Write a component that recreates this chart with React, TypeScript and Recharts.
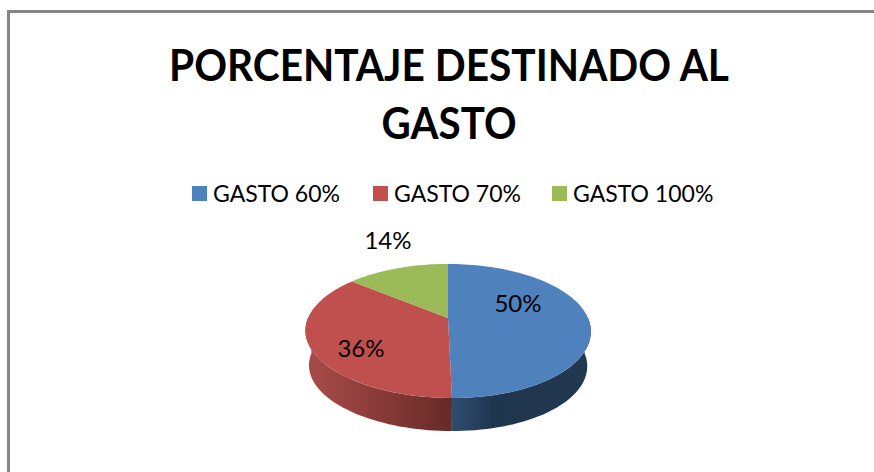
import React from "react";
import { PieChart, Pie, Legend } from "recharts";

const categories = ["GASTO 60%", "GASTO 70%", "GASTO 100%"];
const shares = [50, 36, 14];
const colors = ["#4f81bd", "#c0504d", "#9bbb59"];
const wallShades = [
  ["#2f4d70", "#20364f", "#22384f"],
  ["#a94c49", "#96423f", "#672a27"],
  ["#7a9446", "#7a9446", "#7a9446"],
];
const titleLines = ["PORCENTAJE DESTINADO AL", "GASTO"];

const rows = categories.map((name, i) => ({ name, value: shares[i], fill: colors[i] }));

// label spots relative to the pie apex, the way Excel left them
const LABEL_OFFSETS = [
  [70, -16],
  [-87, 29],
  [-60, -79],
];
const LEGEND_WIDTHS = [181, 179, 170];
// Lato runs wider than the original Calibri, so squeeze the title to its width
const TITLE_WIDTHS = [560, 135];

const FONT = "Lato, 'Open Sans', sans-serif";
const LEGEND_HEIGHT = 28;

// the old 3D pie: a circle seen in perspective, so the apex sits above the ellipse centre
const TILT = 0.194;
const SQUASH = 0.461;
const DEPTH = 35;
const BOTTOM_SCALE = 0.975;

function rimPoint(cx: number, cy: number, r: number, deg: number, lower = false) {
  const rad = (deg * Math.PI) / 180;
  const u = Math.cos(rad);
  const v = -Math.sin(rad);
  const w = 1 - TILT * v;
  const scale = lower ? BOTTOM_SCALE : 1;
  const y = ((r * SQUASH * v) / w) * scale;
  const lean = y > 0 ? 4 * (y / 80) * (y / 80) : 0;
  return [cx + ((r * u) / w) * scale + lean, cy + y + (lower ? DEPTH : 0)];
}

function sweep(from: number, to: number) {
  const steps = Math.max(2, Math.ceil(Math.abs(to - from) / 2));
  return Array.from({ length: steps + 1 }, (_, i) => from + ((to - from) * i) / steps);
}

function PieSlice(props: any) {
  const { cx, cy, outerRadius, startAngle, endAngle, fill, index } = props;
  const top = sweep(startAngle, endAngle).map((a) => rimPoint(cx, cy, outerRadius, a));
  const face = `M${cx},${cy} ` + top.map((p) => `L${p[0]},${p[1]}`).join(" ") + " Z";

  // only the part of the rim facing us gets a wall (angles run 0 to -180 along the front)
  const wallFrom = Math.min(startAngle, 0);
  const wallTo = Math.max(endAngle, -180);
  let wall = null;
  if (wallFrom > wallTo) {
    const angles = sweep(wallFrom, wallTo);
    const upper = angles.map((a) => rimPoint(cx, cy, outerRadius, a));
    const lower = angles.map((a) => rimPoint(cx, cy, outerRadius, a, true)).reverse();
    const pts = [...upper, ...lower];
    const xs = pts.map((p) => p[0]);
    const id = `wall-${index}`;
    const shade = wallShades[index];
    wall = (
      <>
        <defs>
          <linearGradient id={id} gradientUnits="userSpaceOnUse" x1={Math.min(...xs)} x2={Math.max(...xs)} y1={0} y2={0}>
            <stop offset="0%" stopColor={shade[0]} />
            <stop offset="30%" stopColor={shade[1]} />
            <stop offset="100%" stopColor={shade[2]} />
          </linearGradient>
        </defs>
        <path d={"M" + pts.map((p) => `${p[0]},${p[1]}`).join(" L") + " Z"} fill={`url(#${id})`} />
      </>
    );
  }
  return (
    <g>
      {wall}
      <path d={face} fill={fill} />
    </g>
  );
}

function renderLabel(props: any) {
  const { cx, cy, index, percent } = props;
  const [dx, dy] = LABEL_OFFSETS[index];
  return (
    <text x={cx + dx} y={cy + dy} textAnchor="middle" dominantBaseline="central" fontFamily={FONT} fontSize={24} fill="#000">
      {Math.round(percent * 100)}%
    </text>
  );
}

function LegendRow(props: any) {
  const items = props.payload || [];
  return (
    <div style={{ display: "flex", paddingLeft: 192, fontFamily: FONT, fontSize: 23, color: "#000", lineHeight: `${LEGEND_HEIGHT}px` }}>
      {items.map((item: any, i: number) => (
        <div key={item.value} style={{ width: LEGEND_WIDTHS[i], display: "flex", alignItems: "center", whiteSpace: "nowrap" }}>
          <span style={{ width: 15, height: 15, marginRight: 6, background: item.color, display: "inline-block" }} />
          {item.value}
        </div>
      ))}
    </div>
  );
}

export default function App() {
  return (
    <div style={{ position: "absolute", left: 0, top: 0, width: 874, height: 472, overflow: "hidden", background: "#fff" }}>
      <div style={{ position: "absolute", left: 7, top: 10, width: 880, height: 480, borderLeft: "3px solid #868686", borderTop: "3px solid #868686" }} />
      <PieChart width={874} height={472} margin={{ top: 0, right: 0, bottom: 0, left: 0 }} style={{ position: "absolute", left: 0, top: 0 }}>
        {titleLines.map((line, i) => (
          <text
            key={line}
            x={449}
            y={64 + i * 58}
            textAnchor="middle"
            dominantBaseline="central"
            fontFamily={FONT}
            fontWeight={700}
            fontSize={44}
            fill="#000"
            textLength={TITLE_WIDTHS[i]}
            lengthAdjust="spacingAndGlyphs"
          >
            {line}
          </text>
        ))}
        <Legend content={<LegendRow />} verticalAlign="top" itemSorter={null} wrapperStyle={{ left: 0, top: 179, width: 874 }} />
        <Pie
          data={rows}
          dataKey="value"
          nameKey="name"
          cx={448}
          cy={318 - LEGEND_HEIGHT}
          outerRadius={140}
          startAngle={90}
          endAngle={-270}
          stroke="none"
          shape={PieSlice}
          label={renderLabel}
          labelLine={false}
          isAnimationActive={false}
        />
      </PieChart>
    </div>
  );
}
